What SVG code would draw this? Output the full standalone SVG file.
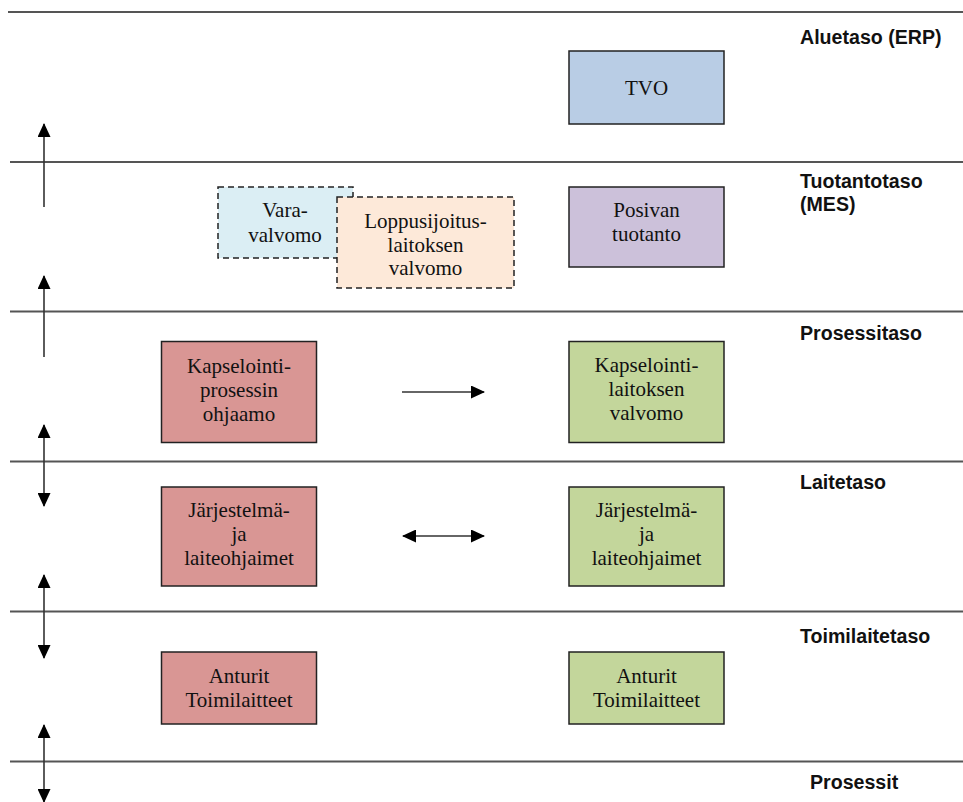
<svg xmlns="http://www.w3.org/2000/svg" width="963" height="802" viewBox="0 0 963 802">
  <style>
    .level { stroke: #555; stroke-width: 2; fill: none; }
    .lvl-label { font-family: "Liberation Sans", Arial, sans-serif; font-weight: bold; font-size: 19.6px; fill: #111; }
    .box { stroke: #222; stroke-width: 1.5; }
    .dashed { stroke: #222; stroke-width: 1.5; stroke-dasharray: 6 4; }
    .txt { font-family: "Liberation Serif", "Times New Roman", serif; font-size: 21px; fill: #111; text-anchor: middle; }
    .conn { stroke: #333; stroke-width: 1.6; fill: none; }
    .blue { fill: #b9cde5; }
    .lightblue { fill: #dbeef4; }
    .peach { fill: #fde9d9; }
    .purple { fill: #ccc1da; }
    .red { fill: #d99694; }
    .green { fill: #c3d69b; }
  </style>
  <defs>
    <marker id="head" viewBox="0 0 14 13" refX="13" refY="6.5" markerWidth="14" markerHeight="13" markerUnits="userSpaceOnUse" orient="auto-start-reverse">
      <path d="M0,0 L14,6.5 L0,13 Z" fill="#000"/>
    </marker>
  </defs>

  <rect width="963" height="802" fill="#fff"/>

  <!-- level separators -->
  <g id="levels">
    <line class="level" x1="8" y1="12" x2="963" y2="12"/>
    <line class="level" x1="10" y1="162" x2="963" y2="162"/>
    <line class="level" x1="10" y1="311.5" x2="963" y2="311.5"/>
    <line class="level" x1="10" y1="461.5" x2="963" y2="461.5"/>
    <line class="level" x1="10" y1="611.5" x2="963" y2="611.5"/>
    <line class="level" x1="10" y1="761.5" x2="963" y2="761.5"/>
  </g>

  <!-- level names -->
  <g id="level-labels">
    <text class="lvl-label" x="800" y="44">Aluetaso (ERP)</text>
    <text class="lvl-label" x="800" y="188">Tuotantotaso</text>
    <text class="lvl-label" x="800" y="211">(MES)</text>
    <text class="lvl-label" x="800" y="340">Prosessitaso</text>
    <text class="lvl-label" x="800" y="489">Laitetaso</text>
    <text class="lvl-label" x="800" y="643">Toimilaitetaso</text>
    <text class="lvl-label" x="810" y="789">Prosessit</text>
  </g>

  <!-- nodes -->
  <g id="tvo">
    <rect class="box blue" x="569" y="51" width="155" height="73"/>
    <text class="txt" x="646.5" y="95">TVO</text>
  </g>

  <g id="varavalvomo">
    <rect class="dashed lightblue" x="218" y="187" width="135" height="71"/>
    <text class="txt" x="285" y="217">Vara-</text>
    <text class="txt" x="285" y="242">valvomo</text>
  </g>

  <g id="loppusijoitus">
    <rect class="dashed peach" x="337" y="197" width="177" height="91"/>
    <text class="txt" x="425.5" y="228">Loppusijoitus-</text>
    <text class="txt" x="425.5" y="252">laitoksen</text>
    <text class="txt" x="425.5" y="275">valvomo</text>
  </g>

  <g id="posiva">
    <rect class="box purple" x="569" y="187" width="155" height="80"/>
    <text class="txt" x="646.5" y="217">Posivan</text>
    <text class="txt" x="646.5" y="241">tuotanto</text>
  </g>

  <g id="ohjaamo">
    <rect class="box red" x="161.5" y="341.5" width="155" height="101"/>
    <text class="txt" x="239" y="373">Kapselointi-</text>
    <text class="txt" x="239" y="397">prosessin</text>
    <text class="txt" x="239" y="421">ohjaamo</text>
  </g>

  <g id="laitosvalvomo">
    <rect class="box green" x="569" y="341.5" width="155" height="101"/>
    <text class="txt" x="646.5" y="372">Kapselointi-</text>
    <text class="txt" x="646.5" y="396">laitoksen</text>
    <text class="txt" x="646.5" y="420">valvomo</text>
  </g>

  <g id="ohjaimet-left">
    <rect class="box red" x="161.5" y="487" width="155" height="99"/>
    <text class="txt" x="239" y="517">Järjestelmä-</text>
    <text class="txt" x="239" y="541">ja</text>
    <text class="txt" x="239" y="565">laiteohjaimet</text>
  </g>

  <g id="ohjaimet-right">
    <rect class="box green" x="569" y="487" width="155" height="99"/>
    <text class="txt" x="646.5" y="517">Järjestelmä-</text>
    <text class="txt" x="646.5" y="541">ja</text>
    <text class="txt" x="646.5" y="565">laiteohjaimet</text>
  </g>

  <g id="anturit-left">
    <rect class="box red" x="161.5" y="652" width="155" height="72"/>
    <text class="txt" x="239" y="683">Anturit</text>
    <text class="txt" x="239" y="707">Toimilaitteet</text>
  </g>

  <g id="anturit-right">
    <rect class="box green" x="569" y="652" width="155" height="72"/>
    <text class="txt" x="646.5" y="683">Anturit</text>
    <text class="txt" x="646.5" y="707">Toimilaitteet</text>
  </g>

  <!-- connectors -->
  <g id="connectors">
    <line class="conn" x1="44" y1="207" x2="44" y2="124" marker-end="url(#head)"/>
    <line class="conn" x1="44" y1="357" x2="44" y2="276" marker-end="url(#head)"/>
    <line class="conn" x1="44" y1="425" x2="44" y2="506" marker-start="url(#head)" marker-end="url(#head)"/>
    <line class="conn" x1="44" y1="575" x2="44" y2="658" marker-start="url(#head)" marker-end="url(#head)"/>
    <line class="conn" x1="44" y1="725" x2="44" y2="802" marker-start="url(#head)" marker-end="url(#head)"/>
    <line class="conn" x1="402" y1="392" x2="484" y2="392" marker-end="url(#head)"/>
    <line class="conn" x1="403" y1="536" x2="484" y2="536" marker-start="url(#head)" marker-end="url(#head)"/>
  </g>
</svg>
